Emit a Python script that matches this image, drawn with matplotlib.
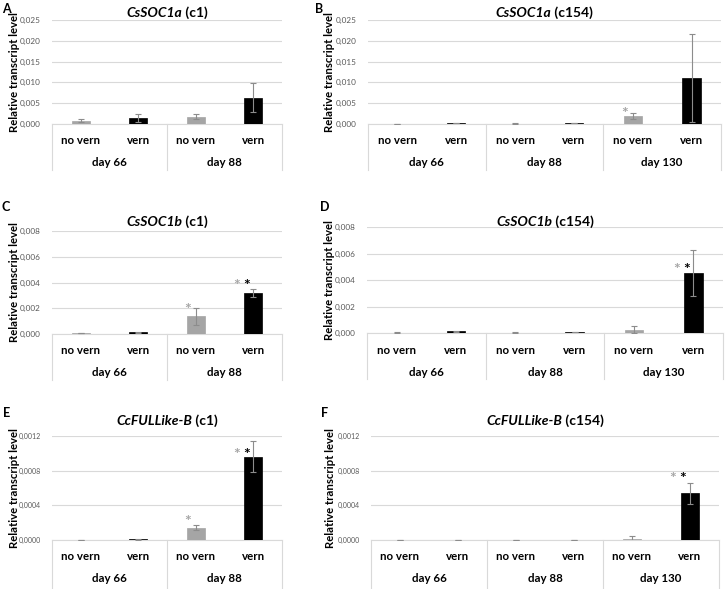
import matplotlib
matplotlib.use("Agg")
import matplotlib.pyplot as plt
import matplotlib.transforms as mtransforms
import numpy as np

plt.rcParams['font.family'] = ['Lato', 'DejaVu Sans']

# ---------------- data ----------------
treatments = ['no vern', 'vern']
days_c1 = ['day 66', 'day 88']
days_c154 = ['day 66', 'day 88', 'day 130']

# A  CsSOC1a (c1)
a_vals = [0.0008, 0.0015, 0.0017, 0.0063]
a_err = [0.0003, 0.0009, 0.0006, 0.0035]
# B  CsSOC1a (c154)
b_vals = [0.00002, 0.0002, 0.0001, 0.0003, 0.0020, 0.0110]
b_err = [0.00001, 0.00005, 0.00005, 0.00005, 0.0007, 0.0106]
# C  CsSOC1b (c1)
c_vals = [0.00008, 0.00013, 0.00136, 0.0032]
c_err = [0.00002, 0.00005, 0.00068, 0.0003]
# D  CsSOC1b (c154)
d_vals = [0.00003, 0.00012, 0.00003, 0.00008, 0.00025, 0.00453]
d_err = [0.00001, 0.00003, 0.00001, 0.00002, 0.00028, 0.0017]
# E  CcFULLike-B (c1)
e_vals = [0.000002, 0.000008, 0.000142, 0.00096]
e_err = [0.000001, 0.000003, 0.00003, 0.00018]
# F  CcFULLike-B (c154)
f_vals = [0.000001, 0.000001, 0.000003, 0.000001, 0.00001, 0.00054]
f_err = [0.0, 0.0, 0.000002, 0.0, 0.00004, 0.00012]

# significance asterisks: (bar index, data y, colour)
a_stars = []
b_stars = [(4, 0.0031, 'grey')]
c_stars = [(2, 0.00208, 'grey'), (3, 0.0040, 'grey'), (3, 0.0040, 'black')]
d_stars = [(5, 0.00498, 'grey'), (5, 0.00498, 'black')]
e_stars = [(2, 0.000242, 'grey'), (3, 0.001015, 'grey'), (3, 0.001015, 'black')]
f_stars = [(5, 0.00074, 'grey'), (5, 0.00074, 'black')]

# ---------------- style ----------------
W, H = 726, 589
GREY = '#a5a5a5'
GRID = '#d9d9d9'
TICKC = '#595959'

fig = plt.figure(figsize=(W / 100, H / 100), dpi=100)


def panel(letter, vals, err, days, stars, ymax, ystep, ndec,
          box, table_depth, letter_xy, ylab_x, tick_fs):
    l, r, t, b = box
    ax = fig.add_axes([l / W, 1 - b / H, (r - l) / W, (b - t) / H])
    n = len(vals)
    x = np.arange(n)
    colors = [GREY if i % 2 == 0 else 'black' for i in range(n)]
    ax.bar(x, vals, width=0.31, color=colors, edgecolor=colors, linewidth=0.5,
           zorder=3)
    ax.errorbar(x, vals, yerr=err, fmt='none', ecolor='#8c8c8c', elinewidth=0.8,
                capsize=2.2, capthick=0.8, zorder=4)
    ax.set_xlim(-0.5, n - 0.5)
    ax.set_ylim(0, ymax)
    ticks = np.arange(0, ymax + ystep / 2, ystep)
    ax.set_yticks(ticks)
    ax.set_yticklabels([f"{v:.{ndec}f}".replace('.', ',') for v in ticks],
                       color=TICKC, fontsize=tick_fs)
    ax.tick_params(axis='y', length=0, pad=8)
    ax.set_xticks([])
    for s in ax.spines.values():
        s.set_visible(False)
    ax.grid(axis='y', color=GRID, linewidth=0.8, zorder=0)
    ax.set_axisbelow(True)
    ax.axhline(0, color=GRID, linewidth=0.8, clip_on=False, zorder=1)

    h_px = b - t
    w_px = r - l
    trans = mtransforms.blended_transform_factory(ax.transData, ax.transAxes)
    for gx in np.arange(-0.5, n, 2):
        ax.plot([gx, gx], [0, -table_depth / h_px], color=GRID, linewidth=0.8,
                transform=trans, clip_on=False, zorder=1)
    for i in range(n):
        ax.text(i, -17 / h_px, treatments[i % 2], transform=trans,
                ha='center', va='center', fontsize=8.3, fontweight='bold')
    for g, d in enumerate(days):
        ax.text(2 * g + 0.5, -39 / h_px, d, transform=trans,
                ha='center', va='center', fontsize=8.3, fontweight='bold')

    # asterisks
    for idx, yy, col in stars:
        same = [s for s in stars if s[0] == idx]
        if len(same) == 1:
            dx = -8
        else:
            dx = -17 if col == 'grey' else -7
        tr = mtransforms.offset_copy(ax.transData, fig=fig, x=dx, y=-3,
                                     units='dots')
        ax.text(idx, yy, '*', transform=tr, ha='center', va='center',
                fontsize=11.5, fontweight='bold',
                color='#a5a5a5' if col == 'grey' else 'black', zorder=5)

    ax.set_ylabel('Relative transcript level', fontsize=8.2, fontweight='bold')
    ax.yaxis.set_label_coords((ylab_x - l) / w_px, 0.5)

    fig.text(letter_xy[0] / W, 1 - letter_xy[1] / H, letter, fontsize=9,
             fontweight='bold', ha='center', va='center')
    return ax


specs = [
    ('A', 'CsSOC1a', ' (c1)', a_vals, a_err, days_c1, a_stars, 0.025, 0.005, 3,
     (52, 282, 20, 124), 46, (6, 9), 13, 20, 5.9),
    ('B', 'CsSOC1a', ' (c154)', b_vals, b_err, days_c154, b_stars, 0.025, 0.005, 3,
     (368, 721, 20, 124), 46, (319, 9), 13, 335, 5.9),
    ('C', 'CsSOC1b', ' (c1)', c_vals, c_err, days_c1, c_stars, 0.008, 0.002, 3,
     (52, 282, 231, 334), 46, (6, 207), 222, 20, 5.9),
    ('D', 'CsSOC1b', ' (c154)', d_vals, d_err, days_c154, d_stars, 0.008, 0.002, 3,
     (367, 723, 227, 333), 46, (325, 207), 222, 335, 5.9),
    ('E', 'CcFULLike-B', ' (c1)', e_vals, e_err, days_c1, e_stars, 0.0012, 0.0004, 4,
     (52, 282, 436, 540), 60, (7, 413), 421, 20, 5.0),
    ('F', 'CcFULLike-B', ' (c154)', f_vals, f_err, days_c154, f_stars, 0.0012, 0.0004, 4,
     (371, 719, 436, 540), 60, (325, 413), 421, 336, 5.0),
]

title_objs = []
for sp in specs:
    (letter, gene, clone, vals, err, days, stars, ymax, ystep, ndec,
     box, depth, lxy, ty, ylx, tfs) = sp
    panel(letter, vals, err, days, stars, ymax, ystep, ndec, box, depth, lxy,
          ylx, tfs)
    l, r, t, b = box
    cx = (l + r) / 2
    t1 = fig.text(cx / W, 1 - ty / H, gene, fontsize=10, fontweight='bold',
                  style='italic', ha='left', va='center')
    t2 = fig.text(cx / W, 1 - ty / H, clone, fontsize=10, fontweight='bold',
                  ha='left', va='center')
    title_objs.append((t1, t2, cx, ty))

fig.canvas.draw()
renderer = fig.canvas.get_renderer()
for t1, t2, cx, ty in title_objs:
    w1 = t1.get_window_extent(renderer).width
    w2 = t2.get_window_extent(renderer).width
    start = cx - (w1 + w2) / 2
    t1.set_position((start / W, 1 - ty / H))
    t2.set_position(((start + w1) / W, 1 - ty / H))

fig.savefig('out.png', dpi=100)
